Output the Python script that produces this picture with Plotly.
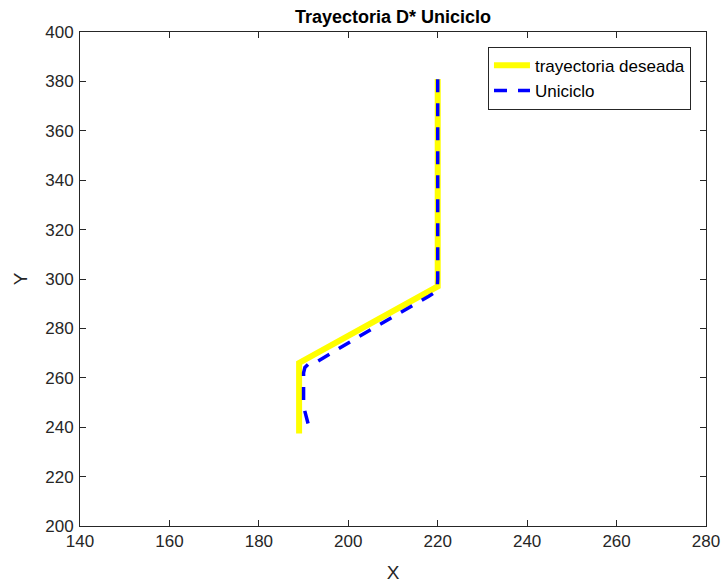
import plotly.graph_objects as go

# Desired D* path (waypoints)
ref_x = [189, 189, 220, 220]
ref_y = [237.5, 266, 297, 381]

# Unicycle trajectory following the path
uni_x = [191.0, 190.6, 190.2, 190.0, 190.0, 190.3, 191.0, 192.5, 205.0, 218.0, 219.3, 219.9, 220.0, 220.0]
uni_y = [241.5, 244.0, 247.0, 250.0, 262.0, 264.2, 265.4, 266.0, 279.5, 293.0, 294.5, 296.3, 300.0, 381.5]

x_ticks = [140, 160, 180, 200, 220, 240, 260, 280]
y_ticks = [200, 220, 240, 260, 280, 300, 320, 340, 360, 380, 400]

FONT = "Liberation Sans, Arial, Helvetica, sans-serif"
INK = "#262626"

fig = go.Figure()
fig.add_trace(go.Scatter(
    x=ref_x, y=ref_y, mode="lines", name="trayectoria deseada",
    line=dict(color="#FFFF00", width=6),
))
fig.add_trace(go.Scatter(
    x=uni_x, y=uni_y, mode="lines", name="Uniciclo",
    line=dict(color="#0000FF", width=3.5, dash="13px,11px"),
))

axis_style = dict(
    showgrid=False, zeroline=False, automargin=False,
    showline=True, linecolor=INK, linewidth=1, mirror="allticks",
    ticks="inside", ticklen=6, tickcolor=INK, tickwidth=1,
    tickfont=dict(family=FONT, size=17, color=INK),
)

fig.update_xaxes(
    range=[140, 280], tickvals=x_ticks,
    title=dict(text="X", font=dict(family=FONT, size=19, color=INK), standoff=15),
    **axis_style,
)
fig.update_yaxes(
    range=[200, 400], tickvals=y_ticks, ticklabelstandoff=2,
    title=dict(text="Y", font=dict(family=FONT, size=19, color=INK), standoff=12),
    **axis_style,
)

fig.update_layout(
    width=724, height=587,
    margin=dict(l=80, r=18, t=32, b=61),
    paper_bgcolor="white", plot_bgcolor="white",
    title=dict(
        text="<b>Trayectoria D* Uniciclo</b>",
        font=dict(family=FONT, size=18, color="black"),
        x=0.5, xref="paper", xanchor="center", y=1 - 17 / 587, yanchor="middle",
    ),
    legend=dict(
        x=0.976, y=0.97, xanchor="right", yanchor="top",
        bgcolor="white", bordercolor=INK, borderwidth=1,
        font=dict(family=FONT, size=17, color="black"),
        tracegroupgap=0, itemwidth=36,
    ),
    showlegend=True,
)

fig.write_html("out.html")
